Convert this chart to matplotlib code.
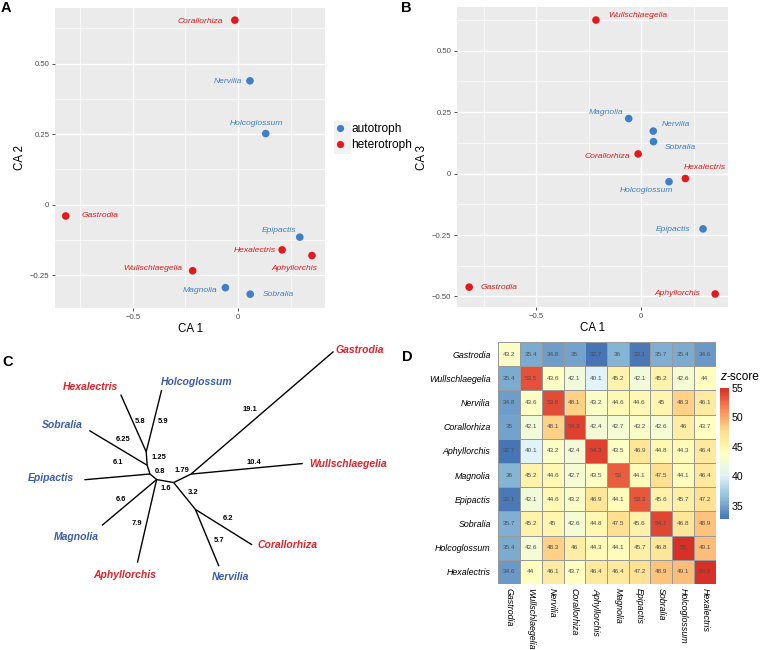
import matplotlib
matplotlib.use('Agg')
import matplotlib.pyplot as plt
import numpy as np
from matplotlib.colors import LinearSegmentedColormap
from matplotlib.patches import Rectangle
from matplotlib.lines import Line2D

plt.rcParams['font.family'] = ['Liberation Sans', 'DejaVu Sans']

# ---------------- data ----------------
species = ['Gastrodia', 'Wullschlaegelia', 'Nervilia', 'Corallorhiza', 'Aphyllorchis',
           'Magnolia', 'Epipactis', 'Sobralia', 'Holcoglossum', 'Hexalectris']
trophic = ['heterotroph', 'heterotroph', 'autotroph', 'heterotroph', 'heterotroph',
           'autotroph', 'autotroph', 'autotroph', 'autotroph', 'heterotroph']
ca1 = [-0.82, -0.216, 0.057, -0.015, 0.352, -0.06, 0.294, 0.058, 0.132, 0.21]
ca2 = [-0.040, -0.234, 0.439, 0.654, -0.180, -0.294, -0.115, -0.317, 0.252, -0.160]
ca3 = [-0.462, 0.625, 0.173, 0.080, -0.490, 0.224, -0.225, 0.130, -0.033, -0.020]

zscore = [
    [43.2, 35.4, 34.8, 35.0, 32.7, 36.0, 33.1, 35.7, 35.4, 34.6],
    [35.4, 53.5, 43.6, 42.1, 40.1, 45.2, 42.1, 45.2, 42.6, 44.0],
    [34.8, 43.6, 53.8, 48.1, 43.2, 44.6, 44.6, 45.0, 48.3, 46.1],
    [35.0, 42.1, 48.1, 54.3, 42.4, 42.7, 43.2, 42.6, 46.0, 43.7],
    [32.7, 40.1, 43.2, 42.4, 54.3, 43.5, 46.9, 44.8, 44.3, 46.4],
    [36.0, 45.2, 44.6, 42.7, 43.5, 53.0, 44.1, 47.5, 44.1, 46.4],
    [33.1, 42.1, 44.6, 43.2, 46.9, 44.1, 53.3, 45.6, 45.7, 47.2],
    [35.7, 45.2, 45.0, 42.6, 44.8, 47.5, 45.6, 54.1, 46.8, 48.9],
    [35.4, 42.6, 48.3, 46.0, 44.3, 44.1, 45.7, 46.8, 55.0, 49.1],
    [34.6, 44.0, 46.1, 43.7, 46.4, 46.4, 47.2, 48.9, 49.1, 54.9],
]
cbar_ticks = [35, 40, 45, 50, 55]

tree_parent = ['C', 'B', 'A', 'A', 'B', 'C', 'C', 'D', 'D', 'D', 'E', 'F', 'F', 'E', 'G', 'G']
tree_child = ['B', 'A', 'Hexalectris', 'Holcoglossum', 'Sobralia', 'Epipactis', 'D',
              'Magnolia', 'Aphyllorchis', 'E', 'F', 'Corallorhiza', 'Nervilia', 'G',
              'Gastrodia', 'Wullschlaegelia']
tree_length = [0.85, 1.25, 5.8, 5.9, 6.25, 6.1, 0.8, 6.6, 7.9, 1.6, 3.2, 6.2, 5.7, 1.79, 17.4, 10.4]
tree_label = ['', '1.25', '5.8', '5.9', '6.25', '6.1', '0.8', '6.6', '7.9', '1.6', '3.2',
              '6.2', '5.7', '1.79', '19.1', '10.4']

# ---------------- style / layout ----------------
W, H = 760, 650
COL = {'autotroph': '#3F7FC8', 'heterotroph': '#E31A1C'}
TREE_COL = {'autotroph': '#3B5DAA', 'heterotroph': '#E2222A'}
troph_of = dict(zip(species, trophic))

def px_axes(x0, y0, x1, y1):
    return fig.add_axes([x0 / W, 1 - y1 / H, (x1 - x0) / W, (y1 - y0) / H])

fig = plt.figure(figsize=(7.6, 6.5), dpi=100)

def gg_axes(ax, xlim, ylim, xmaj, ymaj, xmin, ymin, xlabs, ylabs):
    ax.set_facecolor('#EBEBEB')
    ax.set_xlim(*xlim)
    ax.set_ylim(*ylim)
    for v in xmin:
        ax.axvline(v, color='white', lw=0.5, zorder=0)
    for v in ymin:
        ax.axhline(v, color='white', lw=0.5, zorder=0)
    for v in xmaj:
        ax.axvline(v, color='white', lw=1.0, zorder=0)
    for v in ymaj:
        ax.axhline(v, color='white', lw=1.0, zorder=0)
    ax.set_xticks(xmaj)
    ax.set_xticklabels(xlabs)
    ax.set_yticks(ymaj)
    ax.set_yticklabels(ylabs)
    ax.tick_params(length=2.5, width=0.6, color='#333333', labelsize=5.6,
                   labelcolor='#4D4D4D', pad=1.5)
    for s in ax.spines.values():
        s.set_visible(False)

# ----- Panel A -----
axA = px_axes(55, 8, 325, 308)
gg_axes(axA, (-0.871, 0.414), (-0.366, 0.697), [-0.5, 0], [-0.25, 0, 0.25, 0.5],
        [-0.75, -0.25, 0.25], [-0.125, 0.125, 0.375, 0.625],
        ['\u22120.5', '0'], ['\u22120.25', '0', '0.25', '0.50'])
offA = {'Corallorhiza': (-35, 1), 'Nervilia': (-22, 1), 'Holcoglossum': (-9, -10),
        'Gastrodia': (34, 0), 'Epipactis': (-21, -7), 'Hexalectris': (-27, 1),
        'Aphyllorchis': (-18, 13), 'Wullschlaegelia': (-40, -2), 'Magnolia': (-25, 3),
        'Sobralia': (28, 0)}
for s, x, y, t in zip(species, ca1, ca2, trophic):
    axA.scatter(x, y, s=30, color=COL[t], edgecolors='none', zorder=3)
    dx, dy = offA[s]
    axA.annotate(s, (x, y), xytext=(dx, -dy), textcoords='offset pixels', ha='center',
                 va='center', fontsize=6.1, style='italic', color=COL[t])
axA.set_xlabel('CA 1', fontsize=8.3, labelpad=2)
axA.set_ylabel('CA 2', fontsize=8.3, labelpad=3)

# ----- Panel B -----
axB = px_axes(457, 7, 728, 307)
gg_axes(axB, (-0.878, 0.413), (-0.543, 0.678), [-0.5, 0], [-0.5, -0.25, 0, 0.25, 0.5],
        [-0.75, -0.25, 0.25], [-0.375, -0.125, 0.125, 0.375, 0.625],
        ['\u22120.5', '0'], ['\u22120.50', '\u22120.25', '0', '0.25', '0.50'])
offB = {'Wullschlaegelia': (42, -5), 'Magnolia': (-23, -6), 'Nervilia': (23, -7),
        'Sobralia': (27, 6), 'Corallorhiza': (-31, 3), 'Hexalectris': (19, -11),
        'Holcoglossum': (-23, 9), 'Epipactis': (-30, 1), 'Gastrodia': (30, 0),
        'Aphyllorchis': (-38, 0)}
for s, x, y, t in zip(species, ca1, ca3, trophic):
    axB.scatter(x, y, s=30, color=COL[t], edgecolors='none', zorder=3)
    dx, dy = offB[s]
    axB.annotate(s, (x, y), xytext=(dx, -dy), textcoords='offset pixels', ha='center',
                 va='center', fontsize=6.1, style='italic', color=COL[t])
axB.set_xlabel('CA 1', fontsize=8.3, labelpad=2)
axB.set_ylabel('CA 3', fontsize=8.3, labelpad=3)

# legend
fig.add_artist(Rectangle((334 / W, 1 - 154 / H), 17 / W, 33 / H, transform=fig.transFigure,
                         facecolor='#F2F2F2', edgecolor='none'))
handles = [Line2D([], [], marker='o', ls='none', ms=5.2, color=COL[k], mec='none')
           for k in ['autotroph', 'heterotroph']]
fig.legend(handles, ['autotroph', 'heterotroph'], loc='center left',
           bbox_to_anchor=(335 / W, 1 - 137 / H), frameon=False, fontsize=8.6,
           handlelength=0.9, handletextpad=0.45, labelspacing=0.3, borderpad=0,
           borderaxespad=0)

# ----- Panel C : tree -----
SCALE = 10.8  # px per branch unit
root_px = (150, 474)
axC = px_axes(0, 330, 400, 650)
axC.set_xlim(-root_px[0] / SCALE, (400 - root_px[0]) / SCALE)
axC.set_ylim((root_px[1] - 650) / SCALE, (root_px[1] - 330) / SCALE)
axC.axis('off')
tree_angle = {'B': 108, 'A': 94, 'Hexalectris': 114, 'Holcoglossum': 76, 'Sobralia': 149,
              'Epipactis': 185, 'D': -40, 'Magnolia': -140, 'Aphyllorchis': -103, 'E': -10,
              'F': -51, 'Corallorhiza': -32, 'Nervilia': -67.5, 'G': 26, 'Gastrodia': 40.7,
              'Wullschlaegelia': 5.4}
edge_lab_off = {'1.25': (11.8, -1.5), '5.8': (6.7, -1.4), '5.9': (8.6, 0.9), '6.25': (5.3, -8.3),
                '6.1': (1.1, -14), '0.8': (7, -5.5), '6.6': (-8, -3), '7.9': (-9.7, 2.7),
                '1.6': (1, 7), '3.2': (8.7, -3), '6.2': (4.3, -8.5), '5.7': (11.5, 2.5),
                '1.79': (0, -7.5), '19.1': (-12.6, -3.3), '10.4': (6.7, -6)}
tip_off = {'Hexalectris': (-30.5, -7.8, 'center'), 'Holcoglossum': (35.3, -8.2, 'center'),
           'Sobralia': (-26.8, -5.2, 'center'), 'Epipactis': (-33.7, -1.7, 'center'),
           'Magnolia': (-25.7, 11.9, 'center'), 'Aphyllorchis': (-13.1, 11.9, 'center'),
           'Nervilia': (11.1, 10.8, 'center'), 'Corallorhiza': (35.5, 0.2, 'center'),
           'Wullschlaegelia': (6.5, 0.8, 'left'), 'Gastrodia': (2.5, -1.5, 'left')}
pos = {'C': (0.0, 0.0)}
for p, c, L, lab in zip(tree_parent, tree_child, tree_length, tree_label):
    a = np.deg2rad(tree_angle[c])
    x0, y0 = pos[p]
    x1, y1 = x0 + L * np.cos(a), y0 + L * np.sin(a)
    pos[c] = (x1, y1)
    axC.plot([x0, x1], [y0, y1], color='black', lw=1.0, solid_capstyle='butt')
    if lab:
        dx, dy = edge_lab_off[lab]
        axC.annotate(lab, ((x0 + x1) / 2, (y0 + y1) / 2), xytext=(dx, -dy),
                     textcoords='offset pixels', ha='center', va='center', fontsize=5.4,
                     fontweight='bold')
    if c in troph_of:
        dx, dy, ha = tip_off[c]
        axC.annotate(c, (x1, y1), xytext=(dx, -dy), textcoords='offset pixels', ha=ha,
                     va='center', fontsize=7.5, fontweight='bold', style='italic',
                     color=TREE_COL[troph_of[c]])

# ----- Panel D : heatmap -----
Z = np.array(zscore)
cmap = LinearSegmentedColormap.from_list(
    'rdylbu7', ['#4575B4', '#91BFDB', '#E0F3F8', '#FFFFBF', '#FEE090', '#FC8D59', '#D73027'], N=100)
axD = px_axes(498.3, 342, 715.7, 584)
pc = axD.pcolormesh(Z, cmap=cmap, vmin=Z.min(), vmax=Z.max(), edgecolors='#999999', linewidth=0.6)
axD.set_xlim(0, len(species))
axD.set_ylim(len(species), 0)
for i in range(len(species)):
    for j in range(len(species)):
        axD.text(j + 0.5, i + 0.5, f'{Z[i, j]:g}', ha='center', va='center', fontsize=4.6,
                 color='#4D4D4D')
axD.set_yticks(np.arange(len(species)) + 0.5)
axD.set_yticklabels(species, fontsize=6.4, style='italic')
axD.set_xticks(np.arange(len(species)) + 0.5)
axD.set_xticklabels(species, fontsize=6.4, style='italic', rotation=270, ha='center', va='top')
axD.tick_params(length=0)
axD.tick_params(axis='y', pad=5.5)
axD.tick_params(axis='x', pad=3)
for s in axD.spines.values():
    s.set_visible(False)

axCb = px_axes(720, 388, 729.3, 519.3)
cb = fig.colorbar(pc, cax=axCb, ticks=cbar_ticks)
cb.outline.set_visible(False)
axCb.tick_params(length=0, labelsize=7.6, pad=2)
fig.text(720.5 / W, 1 - 376.5 / H, 'z', fontsize=8.6, style='italic', ha='left', va='center')
fig.text(726.2 / W, 1 - 376.5 / H, '-score', fontsize=8.6, ha='left', va='center')

# panel letters
for lab, x, y in [('A', 1, 8), ('B', 401, 8), ('C', 2, 362), ('D', 402, 357)]:
    fig.text(x / W, 1 - y / H, lab, fontsize=10.5, fontweight='bold', ha='left', va='center')

fig.savefig('out.png', dpi=100)
